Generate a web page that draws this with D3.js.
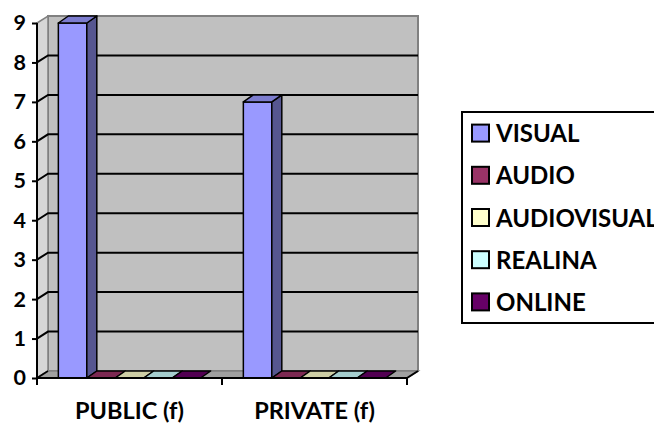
<!DOCTYPE html>
<html>
<head>
<meta charset="utf-8">
<script src="https://cdn.jsdelivr.net/npm/d3@7"></script>
<style>
  body { margin: 0; background: #fff; }
  svg { display: block; font-family: Lato, "Open Sans", sans-serif; font-weight: bold; }
</style>
</head>
<body>
<svg id="chart" width="654" height="424"></svg>
<script>
var categories = ['PUBLIC (f)', 'PRIVATE (f)']
var series = ['VISUAL', 'AUDIO', 'AUDIOVISUAL', 'REALINA', 'ONLINE']
var colors = ['#9999FF', '#993366', '#FFFFCC', '#CCFFFF', '#660066']
var visual = [9, 7]
var audio = [0, 0]
var audiovisual = [0, 0]
var realina = [0, 0]
var online = [0, 0]
var yTicks = [0, 1, 2, 3, 4, 5, 6, 7, 8, 9]

var values = [visual, audio, audiovisual, realina, online]

var svg = d3.select('#chart'),
    pl = 37, pr = 407, pb = 378, pt = 23,
    wdx = 11, wdy = -7,   // depth of walls
    bdx = 10, bdy = -7    // depth of bars

var y = d3.scaleLinear().domain([0, 9]).range([pb, pt])
var x0 = d3.scaleBand().domain(categories).range([pl, pr])
var x1 = d3.scaleBand().domain(series).range([0, x0.bandwidth()]).paddingOuter(0.75)
var color = d3.scaleOrdinal().domain(series).range(colors)

function poly(pts){ return 'M' + pts.map(p => p.join(',')).join('L') + 'Z' }
function shade(c, k){ return d3.rgb(c).darker(k).formatHex() }

// back wall
svg.append('path')
    .attr('d', poly([[pl+wdx, y(9)+wdy], [pr+wdx, y(9)+wdy], [pr+wdx, pb+wdy], [pl+wdx, pb+wdy]]))
    .attr('fill', '#C0C0C0').attr('stroke', '#808080').attr('stroke-width', 2)

// side wall
svg.append('path')
    .attr('d', poly([[pl, y(9)], [pl+wdx, y(9)+wdy], [pl+wdx, pb+wdy], [pl, pb]]))
    .attr('fill', '#D6D6D6').attr('stroke', '#808080').attr('stroke-width', 1.5)

// floor
svg.append('path')
    .attr('d', poly([[pl, pb], [pr, pb], [pr+wdx, pb+wdy], [pl+wdx, pb+wdy]]))
    .attr('fill', '#A0A0A0').attr('stroke', '#808080').attr('stroke-width', 1.5)

// gridlines on side and back wall
var grid = svg.append('g').attr('stroke', '#000').attr('stroke-width', 2).attr('fill', 'none')
yTicks.filter(t => t > 0 && t < 9).forEach(function(t){
    grid.append('path')
        .attr('d', 'M' + pl + ',' + y(t) + 'L' + (pl+wdx) + ',' + (y(t)+wdy) + 'L' + (pr+wdx) + ',' + (y(t)+wdy))
})
grid.append('path').attr('stroke-width', 1.5)
    .attr('d', 'M' + (pl+wdx) + ',' + (pb+wdy) + 'L' + pl + ',' + pb)
grid.append('path').attr('stroke-width', 2)
    .attr('d', 'M' + pr + ',' + pb + 'L' + (pr+wdx) + ',' + (pb+wdy))

// bars
var bars = svg.append('g').attr('stroke', '#000').attr('stroke-width', 1.5).attr('stroke-linejoin', 'round')
categories.forEach(function(cat, ci){
    series.forEach(function(s, si){
        var v = values[si][ci],
            bx = x0(cat) + x1(s), w = x1.bandwidth(),
            yt = y(v), c = color(s)
        if (v > 0) {
            bars.append('path').attr('fill', c)
                .attr('d', poly([[bx, yt], [bx+w, yt], [bx+w, pb], [bx, pb]]))
            bars.append('path').attr('fill', shade(c, 1.6))
                .attr('d', poly([[bx+w, yt], [bx+w+bdx, yt+bdy], [bx+w+bdx, pb+bdy], [bx+w, pb]]))
        }
        bars.append('path').attr('fill', shade(c, 0.6))
            .attr('d', poly([[bx, yt], [bx+w, yt], [bx+w+bdx, yt+bdy], [bx+bdx, yt+bdy]]))
    })
})

// y axis
var yAxis = svg.append('g')
    .attr('transform', 'translate(' + pl + ',0)')
    .call(d3.axisLeft(y).tickValues(yTicks).tickSize(5).tickPadding(6).tickFormat(d3.format('d')))
yAxis.select('.domain').attr('stroke-width', 2).attr('d', 'M0,' + y(9) + 'V' + pb)
yAxis.selectAll('.tick line').attr('stroke-width', 2)
yAxis.selectAll('.tick text').attr('font-size', 21.5).attr('font-weight', 'bold')
    .attr('font-family', 'Lato, sans-serif').attr('fill', '#000')

// x axis
var xAxis = svg.append('g')
    .attr('transform', 'translate(0,' + pb + ')')
    .call(d3.axisBottom(x0).tickSize(0).tickPadding(0))
xAxis.select('.domain').attr('stroke-width', 2).attr('d', 'M' + pl + ',0H' + pr)
xAxis.selectAll('.tick text').attr('font-size', 23.5).attr('font-weight', 'bold')
    .attr('font-family', 'Lato, sans-serif').attr('fill', '#000').attr('dy', null).attr('y', 41)
svg.append('g').attr('stroke', '#000').attr('stroke-width', 2)
    .selectAll('line').data([pl, x0(categories[1]), pr]).join('line')
    .attr('x1', d => d).attr('x2', d => d).attr('y1', pb).attr('y2', pb + 7)

// legend
var ly = d3.scaleBand().domain(series).range([112, 323])
var legend = svg.append('g')
legend.append('rect').attr('x', 462).attr('y', 112).attr('width', 220).attr('height', 211)
    .attr('fill', '#fff').attr('stroke', '#000').attr('stroke-width', 2)
var item = legend.selectAll('g.item').data(series).join('g').attr('class', 'item')
    .attr('transform', d => 'translate(472,' + (ly(d) + ly.bandwidth()/2) + ')')
item.append('rect').attr('x', 0).attr('y', -8.5).attr('width', 17).attr('height', 17)
    .attr('fill', d => color(d)).attr('stroke', '#000').attr('stroke-width', 2)
item.append('text').attr('x', 24).attr('y', 9).attr('font-size', 24).text(d => d)
</script>
</body>
</html>
